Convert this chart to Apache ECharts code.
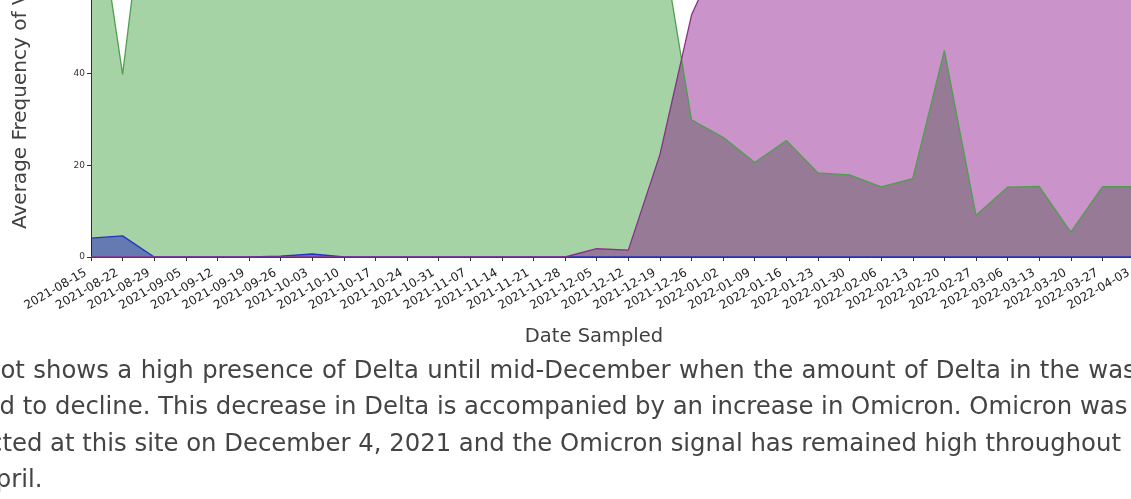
<!DOCTYPE html>
<html>
<head>
<meta charset="utf-8">
<script src="https://cdn.jsdelivr.net/npm/echarts@6/dist/echarts.min.js"></script>
<style>
  html, body { margin: 0; padding: 0; background: #fff; overflow: hidden; }
  #chart { width: 1131px; height: 499px; position: absolute; left: 0; top: 0; }
  .note {
    position: absolute;
    left: 0;
    top: 351.6px;
    width: 1131px;
    font-family: 'DejaVu Sans', sans-serif;
    font-size: 24.35px;
    line-height: 36.6px;
    color: #444;
    white-space: nowrap;
    overflow: hidden;
  }
  .note div { position: relative; }
</style>
</head>
<body>
<div id="chart"></div>
<div class="note">
  <div style="left:0.4px; word-spacing:0.7px">ot shows a high presence of Delta until mid-December when the amount of Delta in the wastewater</div>
  <div style="left:-0.4px">d to decline. This decrease in Delta is accompanied by an increase in Omicron. Omicron was first</div>
  <div style="left:-11px">cted at this site on December 4, 2021 and the Omicron signal has remained high throughout</div>
  <div style="left:-20.8px">April.</div>
</div>
<script>
const dates = [
  '2021-08-15', '2021-08-22', '2021-08-29', '2021-09-05', '2021-09-12', '2021-09-19',
  '2021-09-26', '2021-10-03', '2021-10-10', '2021-10-17', '2021-10-24', '2021-10-31',
  '2021-11-07', '2021-11-14', '2021-11-21', '2021-11-28', '2021-12-05', '2021-12-12',
  '2021-12-19', '2021-12-26', '2022-01-02', '2022-01-09', '2022-01-16', '2022-01-23',
  '2022-01-30', '2022-02-06', '2022-02-13', '2022-02-20', '2022-02-27', '2022-03-06',
  '2022-03-13', '2022-03-20', '2022-03-27', '2022-04-03'
];

// Delta (green), mostly above the visible top until mid-December
const deltaFreq = [
  86, 39.8, 96, 97, 98, 98, 97, 98, 99, 98, 98, 99,
  99, 98, 98, 97, 96, 95, 71.7, 29.9, 26.1, 20.6, 25.4, 18.3,
  17.9, 15.3, 17.1, 45.0, 9.1, 15.2, 15.4, 5.4, 15.3, 15.3
];

// other variant (blue), small early on
const otherFreq = [
  4.1, 4.6, 0, 0, 0, 0, 0.2, 0.65, 0, 0, 0, 0,
  0, 0, 0, 0, 0, 0, 0, 0, 0, 0, 0, 0,
  0, 0, 0, 0, 0, 0, 0, 0, 0, 0
];

// Omicron (purple)
const omicronFreq = [
  0, 0, 0, 0, 0, 0, 0, 0, 0, 0, 0, 0,
  0, 0, 0, 0, 1.8, 1.5, 22.3, 52.7, 68, 78, 82, 85,
  86, 88, 87, 84, 90, 88, 87, 92, 88, 87
];

const yTicks = { min: 0, max: 100, interval: 20 };

const chart = echarts.init(document.getElementById('chart'));

function areaSeries(name, data, lineColor, fillColor) {
  return {
    name,
    type: 'line',
    data,
    symbol: 'none',
    lineStyle: { color: lineColor, width: 1.3 },
    areaStyle: { color: fillColor, opacity: 1 },
    itemStyle: { color: lineColor },
    emphasis: { disabled: true }
  };
}

chart.setOption({
  backgroundColor: '#fff',
  animation: false,
  textStyle: { fontFamily: 'DejaVu Sans' },
  grid: { left: 91, right: -3, top: -202, bottom: 242, outerBoundsMode: 'none', containLabel: false },
  xAxis: {
    type: 'category',
    data: dates,
    boundaryGap: false,
    axisLine: { lineStyle: { color: '#333', width: 1 } },
    axisTick: { length: 4, lineStyle: { color: '#333' } },
    axisLabel: { interval: 0, rotate: 30, fontSize: 12, color: '#222', margin: 12, padding: [0, 6, 0, 0] },
    splitLine: { show: false }
  },
  yAxis: {
    type: 'value',
    min: yTicks.min,
    max: yTicks.max,
    interval: yTicks.interval,
    axisLine: { show: true, lineStyle: { color: '#222', width: 1 } },
    axisTick: { show: true, length: 4, lineStyle: { color: '#333' } },
    axisLabel: { fontSize: 9, color: '#333', margin: 6 },
    splitLine: { show: false }
  },
  graphic: [
    {
      type: 'text',
      x: 21,
      y: 229,
      rotation: Math.PI / 2,
      style: {
        text: 'Average Frequency of Variants in Wastewater',
        fontFamily: 'DejaVu Sans',
        fontSize: 20,
        fill: '#404040',
        align: 'left',
        verticalAlign: 'middle'
      }
    },
    {
      type: 'text',
      x: 594,
      y: 337,
      style: {
        text: 'Date Sampled',
        fontFamily: 'DejaVu Sans',
        fontSize: 19.5,
        fill: '#404040',
        align: 'center',
        verticalAlign: 'middle'
      }
    }
  ],
  series: [
    areaSeries('Delta', deltaFreq, '#4f9f4f', 'rgba(0,128,0,0.35)'),
    areaSeries('Other', otherFreq, '#2233c4', 'rgba(10,0,190,0.42)'),
    areaSeries('Omicron', omicronFreq, '#8a2f8a', 'rgba(128,0,128,0.42)')
  ]
});
</script>
</body>
</html>
